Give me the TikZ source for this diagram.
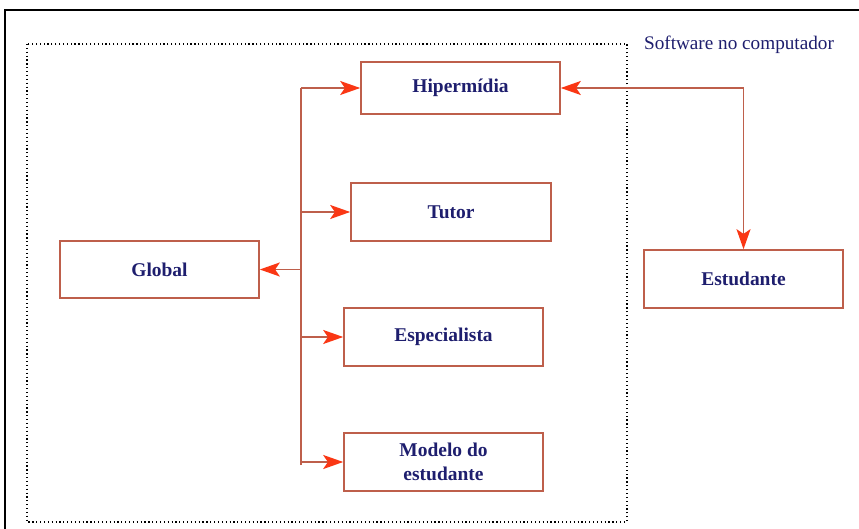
\documentclass[tikz,border=0pt]{standalone}
\usepackage{fontspec}
\setmainfont{Liberation Serif}
\usetikzlibrary{arrows.meta}
\definecolor{navy}{RGB}{30,30,110}
\definecolor{boxred}{RGB}{190,95,75}
\definecolor{tipred}{RGB}{250,55,20}
\tikzset{
  blk/.style={draw=boxred, line width=1.2pt, fill=white, font=\fontsize{14.6}{18}\selectfont\bfseries, text=navy, align=center, inner sep=0pt},
  conn/.style={draw=boxred, line width=1.3pt},
  arr/.style={conn, -{Stealth[length=15pt, width=10.5pt, inset=3.5pt, color=tipred]}},
  arrb/.style={conn, {Stealth[length=15pt, width=10.5pt, inset=3.5pt, color=tipred]}-{Stealth[length=15pt, width=10.5pt, inset=3.5pt, color=tipred]}}
}
\begin{document}
\begin{tikzpicture}[x=0.75pt,y=-0.75pt]
\useasboundingbox (0,0) rectangle (859,528);
\fill[white] (0,0) rectangle (859,528);
% outer frame
\draw[black, line width=1.5pt] (5,530) -- (5,10) -- (862,10);
% dotted region
\draw[black, dotted, line width=0.9pt] (27,44) rectangle (627,522);
\node[text=navy, font=\fontsize{14.4}{16}\selectfont] (sw) at (739,45) {Software no computador};
% blocks
\node[blk, minimum width=149.25pt, minimum height=39pt] (hip) at (460.5,88) {Hipermídia};
\node[blk, minimum width=150pt, minimum height=43.5pt] (tutor) at (451,212) {Tutor};
\node[blk, minimum width=149.25pt, minimum height=42.75pt] (global) at (159.5,269.5) {Global};
\node[blk, minimum width=149.25pt, minimum height=43.5pt] (esp) at (443.5,337) {Especialista};
\node[blk, minimum width=149.25pt, minimum height=43.5pt] (mod) at (443.5,462) {Modelo do\\ estudante};
\node[blk, minimum width=149.25pt, minimum height=43.5pt] (est) at (743.5,279) {Estudante};
% trunk
\coordinate (ttop) at (301,88);
\coordinate (tbot) at (301,465);
\draw[conn] (tbot) -- (ttop);
\draw[arr] (ttop) -- (hip.west);
\draw[arr] (tutor.west -| ttop) -- (tutor.west);
\draw[arr] (global.east -| ttop) -- (global.east);
\draw[arr] (esp.west -| ttop) -- (esp.west);
\draw[arr] (mod.west -| ttop) -- (mod.west);
% hipermidia <-> estudante
\draw[arrb] (hip.east) -- (hip.east -| est.north) -- (est.north);
\end{tikzpicture}
\end{document}
